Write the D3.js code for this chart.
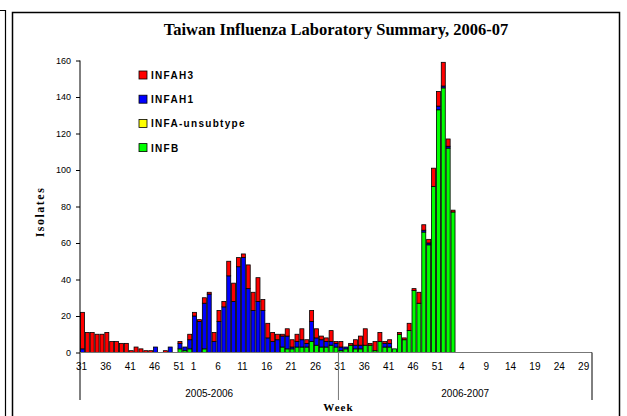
<!DOCTYPE html>
<html lang="en-US">
  <head>
    <meta charset="utf-8" />
    <script src="https://d3js.org/d3.v7.min.js"></script>
    <style>
      body { margin: 0; background: #fff; }
      svg { display: block; }
    </style>
  </head>
  <body>
    <div id="chart"></div>
    <script>
      // week numbers per season block
      var weeks2005 = [31,32,33,34,35,36,37,38,39,40,41,42,43,44,45,46,47,48,49,50,51,52,53];
      var weeks2006 = [1,2,3,4,5,6,7,8,9,10,11,12,13,14,15,16,17,18,19,20,21,22,23,24,25,26,
                       27,28,29,30,31,32,33,34,35,36,37,38,39,40,41,42,43,44,45,46,47,48,49,50,51,52];
      var weeks2007 = [1,2,3,4,5,6,7,8,9,10,11,12,13,14,15,16,17,18,19,20,21,22,23,24,25,26,27,28,29,30];
      var seasons = ["2005-2006", "2006-2007"];
      var seriesNames = ["INFAH3", "INFAH1", "INFA-unsubtype", "INFB"];
      var yTicks = [0, 20, 40, 60, 80, 100, 120, 140, 160];

      var h3 = [20,11,11,10,10,11,6,6,5,5,1,3,2,1,1,0,0,1,0,0,1,0,3,
                2,1,3,1,5,6,3,8,10,5,2,13,10,13,6,8,5,3,1,4,4,4,6,2,6,5,
                2,2,6,1,3,0,1,3,5,9,1,5,5,1,2,0,1,1,4,1,6,3,2,10,8,13,
                4,1,0,0,0,0,0,0,0,0,0,0,0,0,0,0,0,0,0,0,0,0,0,0,0,0,0,0,0,0];
      var h1 = [2,0,0,0,0,0,0,0,0,0,0,0,0,0,0,3,0,0,3,0,3,2,5,
                20,17,25,32,6,17,25,42,28,47,52,35,23,28,23,8,6,7,6,7,1,3,4,2,11,4,
                4,3,2,2,2,1,0,2,2,0,0,0,0,2,2,0,0,0,0,0,0,1,1,0,2,1,
                1,0,0,0,0,0,0,0,0,0,0,0,0,0,0,0,0,0,0,0,0,0,0,0,0,0,0,0,0,0];
      var unsub = [0,0,0,0,0,0,0,0,0,0,0,0,0,0,0,0,0,0,0,0,0,0,0,
                   0,0,0,0,0,0,0,0,0,0,0,0,0,0,0,0,0,0,0,0,0,0,0,0,0,0,
                   0,0,0,0,0,0,0,0,0,0,0,0,0,0,0,0,0,0,0,0,0,0,0,0,0,0,
                   0,0,0,0,0,0,0,0,0,0,0,0,0,0,0,0,0,0,0,0,0,0,0,0,0,0,0,0,0,0];
      var infb = [0,0,0,0,0,0,0,0,0,0,0,0,0,0,0,0,0,0,0,0,2,1,2,
                  0,0,2,0,0,0,0,0,0,0,0,0,0,0,0,0,0,0,3,2,2,3,3,3,6,4,
                  3,3,4,3,1,2,4,2,2,4,4,1,6,3,3,2,10,7,12,34,27,66,59,91,133,145,
                  112,77,0,0,0,0,0,0,0,0,0,0,0,0,0,0,0,0,0,0,0,0,0,0,0,0,0,0,0,0];

      var colors = ["#ff0000", "#0000ff", "#ffff00", "#00ff00"];

      var width = 627, height = 416;
      var pLeft = 80, pRight = 592, pTop = 60.5, pBase = 352.5;

      var weeks = weeks2005.concat(weeks2006, weeks2007);
      var idx = d3.range(weeks.length);
      var split = weeks2005.length + 30; // 2006 week 31 starts second season

      var data = idx.map(function (i) {
        return { i: i, INFAH3: h3[i], INFAH1: h1[i], "INFA-unsubtype": unsub[i], INFB: infb[i] };
      });
      var color = d3.scaleOrdinal().domain(seriesNames).range(colors);

      var svg = d3.select("#chart").append("svg")
        .attr("width", width)
        .attr("height", height);

      // frame
      svg.append("path")
        .attr("d", "M0,10.5H5.5V416")
        .attr("fill", "none").attr("stroke", "#000").attr("stroke-width", 1.2);
      svg.append("rect")
        .attr("x", 12.5).attr("y", 12.5)
        .attr("width", 607).attr("height", 412)
        .attr("fill", "none").attr("stroke", "#000").attr("stroke-width", 1.5);

      svg.append("text")
        .attr("x", 336).attr("y", 35)
        .attr("text-anchor", "middle")
        .style("font-family", "'Liberation Serif', serif")
        .style("font-weight", "bold")
        .style("font-size", "16.5px")
        .text("Taiwan Influenza Laboratory Summary, 2006-07");

      var x = d3.scaleBand().domain(idx).range([pLeft, pRight])
        .paddingInner(0.18).paddingOuter(0.09);
      var y = d3.scaleLinear().domain([0, 160]).range([pBase, pTop]);

      // INFB sits at the bottom of each bar, INFAH3 on top
      var stack = d3.stack().keys(seriesNames.slice().reverse());
      var layers = stack(data);

      svg.selectAll(".layer")
        .data(layers)
        .enter().append("g")
        .attr("class", "layer")
        .attr("fill", function (d) { return color(d.key); })
        .selectAll("rect")
        .data(function (d) { return d.filter(function (s) { return s[1] - s[0] > 0; }); })
        .enter().append("rect")
        .attr("x", function (d) { return x(d.data.i); })
        .attr("width", x.bandwidth())
        .attr("y", function (d) { return y(d[1]); })
        .attr("height", function (d) { return y(d[0]) - y(d[1]); })
        .attr("stroke", "#000")
        .attr("stroke-width", 0.8);

      // y axis
      var yAxis = svg.append("g")
        .attr("transform", "translate(" + pLeft + ",0)")
        .call(d3.axisLeft(y).tickValues(yTicks).tickSize(4).tickPadding(5));
      yAxis.select(".domain").remove();
      yAxis.selectAll("text")
        .style("font-family", "'Liberation Sans', Arial, sans-serif")
        .style("font-size", "9px");
      svg.append("line")
        .attr("x1", pLeft).attr("x2", pLeft).attr("y1", pTop).attr("y2", 400)
        .attr("stroke", "#000");

      // x axis
      var tickIdx = idx.filter(function (i) {
        return i < weeks2005.length ? i % 5 === 0 : (i - weeks2005.length) % 5 === 0;
      });
      var xAxis = svg.append("g")
        .attr("transform", "translate(0," + pBase + ")")
        .call(d3.axisBottom(x).tickValues(tickIdx).tickSize(0).tickPadding(10)
          .tickFormat(function (i) { return weeks[i]; }));
      xAxis.select(".domain").attr("stroke", "#777").attr("d", "M" + pLeft + ",0H" + pRight);
      xAxis.selectAll("text")
        .attr("dx", "-1")
        .style("font-family", "'Liberation Sans', Arial, sans-serif")
        .style("font-size", "10px");

      var step = x.step();
      var sx = pLeft + split * step;
      svg.append("line")
        .attr("x1", sx).attr("x2", sx).attr("y1", pBase).attr("y2", 400)
        .attr("stroke", "#777");
      svg.append("line")
        .attr("x1", pRight).attr("x2", pRight).attr("y1", pBase).attr("y2", 400)
        .attr("stroke", "#000");

      svg.selectAll(".season")
        .data(seasons)
        .enter().append("text")
        .attr("class", "season")
        .attr("x", function (d, i) { return i === 0 ? (pLeft + sx) / 2 : (sx + pRight) / 2; })
        .attr("y", 397)
        .attr("text-anchor", "middle")
        .style("font-family", "'Liberation Sans', Arial, sans-serif")
        .style("font-size", "10px")
        .text(function (d) { return d; });

      svg.append("text")
        .attr("x", sx).attr("y", 411)
        .attr("text-anchor", "middle")
        .style("font-family", "'Liberation Serif', serif")
        .style("font-weight", "bold")
        .style("font-size", "11px")
        .style("letter-spacing", "1px")
        .text("Week");

      svg.append("text")
        .attr("transform", "translate(44,212) rotate(-90)")
        .attr("text-anchor", "middle")
        .style("font-family", "'Liberation Serif', serif")
        .style("font-weight", "bold")
        .style("font-size", "12px")
        .style("letter-spacing", "1.5px")
        .text("Isolates");

      // legend
      var legend = svg.selectAll(".key")
        .data(seriesNames)
        .enter().append("g")
        .attr("class", "key")
        .attr("transform", function (d, i) { return "translate(139," + (71 + i * 24.2) + ")"; });
      legend.append("rect")
        .attr("width", 8).attr("height", 8)
        .attr("fill", function (d) { return color(d); })
        .attr("stroke", "#000").attr("stroke-width", 0.8);
      legend.append("text")
        .attr("x", 12).attr("y", 8)
        .style("font-family", "'Liberation Sans', Arial, sans-serif")
        .style("font-weight", "bold")
        .style("font-size", "10px")
        .style("letter-spacing", "1.3px")
        .text(function (d) { return d; });
    </script>
  </body>
</html>
